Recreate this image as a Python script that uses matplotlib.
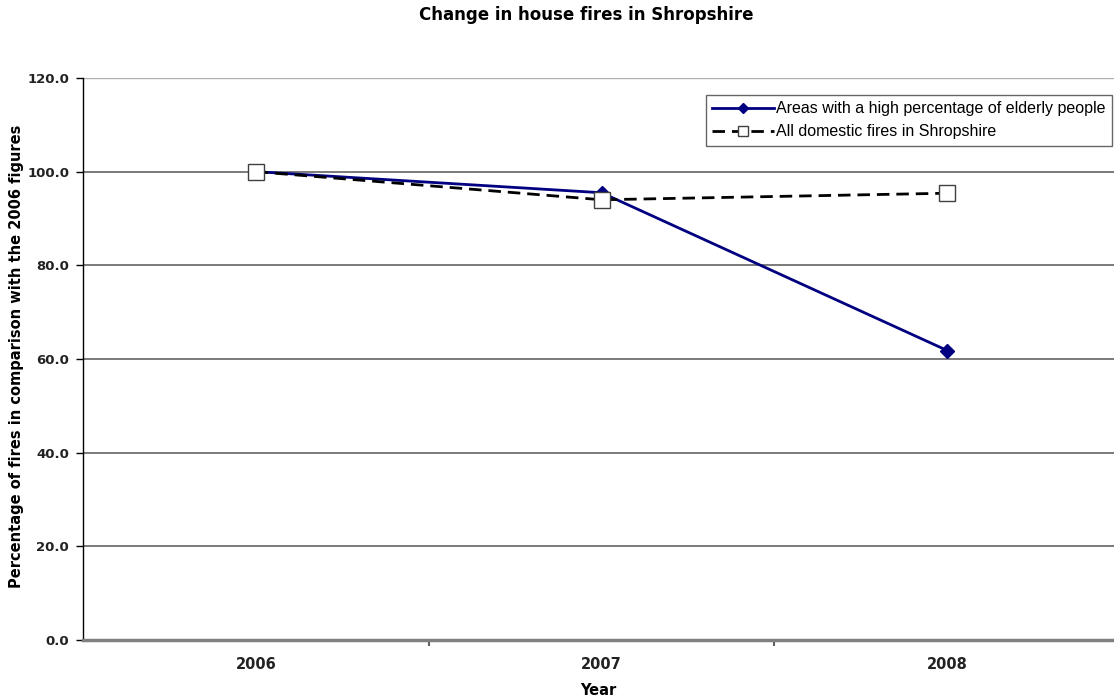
import numpy as np
import matplotlib.pyplot as plt
from matplotlib.ticker import FormatStrFormatter

# data
years = ['2006', '2007', '2008']
elderly = [100.0, 95.5, 61.8]
all_fires = [100.0, 94.0, 95.4]

plt.rcParams['font.family'] = ['Liberation Sans', 'DejaVu Sans']
bold_font = 'DejaVu Sans'

fig = plt.figure(figsize=(11.14, 7.0), dpi=100)
ax = fig.add_axes([83 / 1114, 60 / 700, (1114 - 83) / 1114, 562 / 700])

x = np.arange(len(years))
ax.plot(x, elderly, color='#000080', lw=2, marker='D', ms=7,
        label='Areas with a high percentage of elderly people', zorder=3)
ax.plot(x, all_fires, color='black', lw=2, dashes=(4.5, 2.5), marker='s', ms=12,
        mfc='white', mec='#404040', mew=1,
        label='All domestic fires in Shropshire', zorder=4)

ax.set_ylim(0, 120)
ax.set_xlim(-0.5, 2.482)
ax.set_yticks(np.arange(0, 121, 20))
ax.yaxis.set_major_formatter(FormatStrFormatter('%.1f'))
ax.set_xticks(x)
ax.set_xticklabels(years)
ax.set_xticks([0.5, 1.5], minor=True)
ax.tick_params(axis='x', which='major', length=0, pad=12)
ax.tick_params(axis='x', which='minor', length=4, width=1.5, color='#606060')
ax.tick_params(axis='y', length=5, width=1, color='black', pad=5)
for lab in ax.get_xticklabels():
    lab.set_fontsize(10.5)
    lab.set_fontweight('bold')
    lab.set_family(bold_font)
    lab.set_color('#222222')
for lab in ax.get_yticklabels():
    lab.set_fontsize(9.5)
    lab.set_fontweight('bold')
    lab.set_family(bold_font)
    lab.set_color('#222222')

for yv in [20, 40, 60, 80, 100]:
    ax.axhline(yv, color='#707070', lw=1.3, zorder=1)
ax.axhline(120, color='#b0b0b0', lw=1, zorder=1)

ax.spines['top'].set_visible(False)
ax.spines['right'].set_visible(False)
ax.spines['left'].set_color('black')
ax.spines['left'].set_linewidth(1)
ax.spines['bottom'].set_color('#808080')
ax.spines['bottom'].set_linewidth(2.5)

ax.set_xlabel('Year', fontsize=10.5, fontweight='bold', family=bold_font)
ax.xaxis.set_label_coords(0.5, -0.077)
ax.set_ylabel('Percentage of fires in comparison with the 2006 figures',
              fontsize=10.5, fontweight='bold', family=bold_font)
ax.yaxis.set_label_coords(-0.057, 0.504)
fig.text(586 / 1114, 1 - 15 / 700, 'Change in house fires in Shropshire',
         ha='center', va='center', fontsize=12, fontweight='bold',
         family=bold_font)

leg = ax.legend(loc='upper right', bbox_to_anchor=(0.998, 0.97), fontsize=11.5,
                frameon=True, fancybox=False, handlelength=3.9,
                handletextpad=0.1, borderpad=0.4, labelspacing=0.5,
                borderaxespad=0)
leg.get_frame().set_edgecolor('#404040')
leg.get_frame().set_linewidth(1)
leg.legend_handles[0].set_markersize(5)
leg.legend_handles[1].set_markersize(7)

fig.savefig('out.png', dpi=100)
